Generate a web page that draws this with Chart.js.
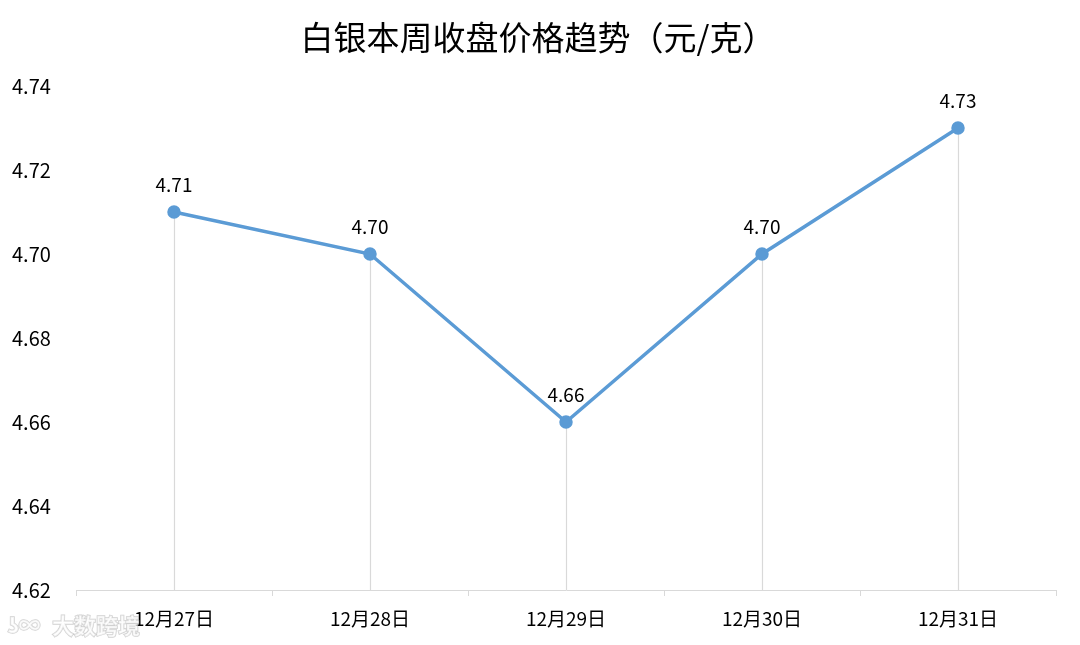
<!DOCTYPE html>
<html>
<head>
<meta charset="utf-8">
<script src="https://cdn.jsdelivr.net/npm/chart.js@4"></script>
<style>
  html, body { margin: 0; padding: 0; background: #fff; }
  #wrap { width: 1080px; height: 645px; }
</style>
</head>
<body>
<div id="wrap"><canvas id="silver-chart" width="1080" height="645"></canvas></div>
<script>
const days = ['12月27日', '12月28日', '12月29日', '12月30日', '12月31日'];
const closePrices = [4.71, 4.70, 4.66, 4.70, 4.73];
const yTicks = [4.62, 4.64, 4.66, 4.68, 4.70, 4.72, 4.74];
const chartTitle = '白银本周收盘价格趋势（元/克）';

const fontFamily = "'Noto Sans CJK SC', 'Noto Sans', sans-serif";

// title, drop lines, value labels, watermark
const extras = {
  id: 'extras',
  beforeDatasetsDraw(chart) {
    const ctx = chart.ctx;
    const meta = chart.getDatasetMeta(0);
    const bottom = chart.chartArea.bottom;
    ctx.save();
    ctx.strokeStyle = '#d9d9d9';
    ctx.lineWidth = 1.2;
    meta.data.forEach(pt => {
      const x = Math.round(pt.x) + 0.5;
      ctx.beginPath();
      ctx.moveTo(x, pt.y);
      ctx.lineTo(x, bottom);
      ctx.stroke();
    });
    ctx.restore();
  },
  afterDatasetsDraw(chart) {
    const ctx = chart.ctx;
    const meta = chart.getDatasetMeta(0);
    ctx.save();
    ctx.fillStyle = '#000';
    ctx.font = '19px ' + fontFamily;
    ctx.textAlign = 'center';
    ctx.textBaseline = 'middle';
    meta.data.forEach((pt, i) => {
      ctx.fillText(closePrices[i].toFixed(2), pt.x, pt.y - 27);
    });

    ctx.font = '33px ' + fontFamily;
    ctx.fillText(chartTitle, 538, 37);

    // faint watermark
    ctx.font = 'bold 22px ' + fontFamily;
    ctx.textAlign = 'left';
    ctx.lineWidth = 1.5;
    ctx.strokeStyle = 'rgba(150,150,150,0.45)';
    ctx.fillStyle = 'rgba(255,255,255,0.7)';
    ctx.strokeText('ʖ∞', 8, 625);
    ctx.fillText('ʖ∞', 8, 625);
    ctx.strokeText('大数跨境', 52, 626);
    ctx.fillText('大数跨境', 52, 626);
    ctx.restore();
  }
};

new Chart(document.getElementById('silver-chart'), {
  type: 'line',
  data: {
    labels: days,
    datasets: [{
      data: closePrices,
      borderColor: '#5b9bd5',
      backgroundColor: '#5b9bd5',
      borderWidth: 3.5,
      pointRadius: 5,
      pointHoverRadius: 5,
      tension: 0,
    }],
  },
  options: {
    responsive: false,
    animation: false,
    layout: { padding: { top: 86, right: 24, left: 12, bottom: 0 } },
    plugins: {
      legend: { display: false },
      title: { display: false },
      tooltip: { enabled: false },
    },
    scales: {
      x: {
        offset: true,
        afterFit: (scale) => { scale.height = 55; },
        border: { color: '#d9d9d9', width: 1 },
        grid: { offset: true, drawOnChartArea: false, tickLength: 6, color: '#d9d9d9' },
        ticks: { color: '#000', font: { size: 19, family: fontFamily }, padding: 11, maxRotation: 0 },
      },
      y: {
        min: 4.62,
        max: 4.74,
        afterFit: (scale) => { scale.width = 64; },
        afterBuildTicks: (scale) => { scale.ticks = yTicks.map(v => ({ value: v })); },
        border: { display: false },
        grid: { display: false },
        ticks: {
          color: '#000',
          crossAlign: 'far',
          font: { size: 20, family: fontFamily },
          callback: (v) => Number(v).toFixed(2),
        },
      },
    },
  },
  plugins: [extras],
});
</script>
</body>
</html>
